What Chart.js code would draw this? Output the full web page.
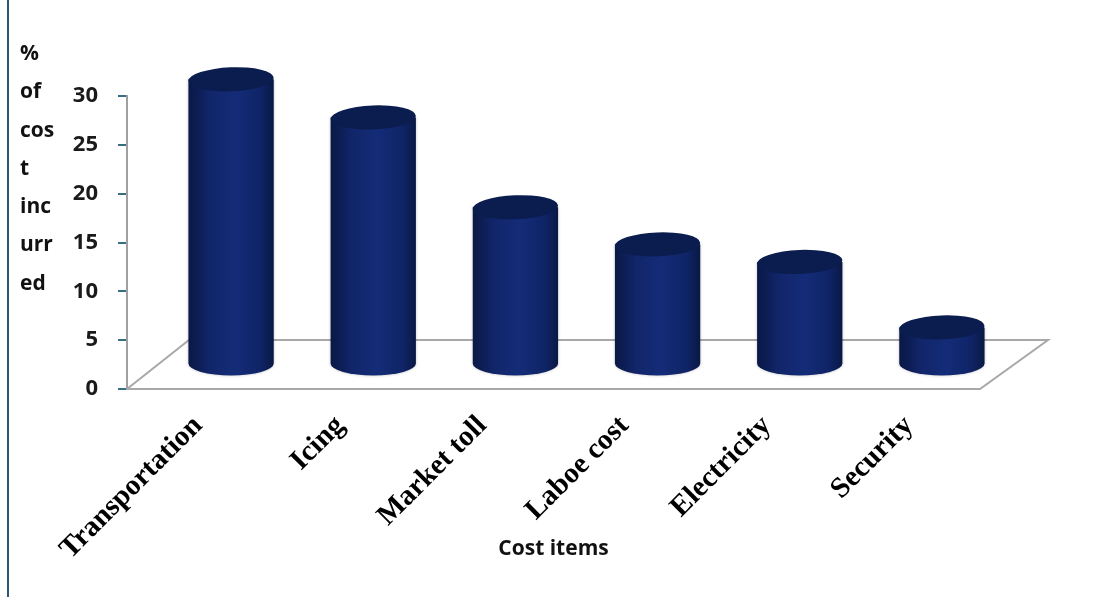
<!DOCTYPE html>
<html>
<head>
<meta charset="utf-8">
<script src="https://cdn.jsdelivr.net/npm/chart.js@4.4.0/dist/chart.umd.min.js"></script>
<style>
  html, body { margin: 0; padding: 0; background: #fff; }
  #wrap { position: relative; width: 1094px; height: 597px; }
  #edge { position: absolute; left: 7px; top: 0; width: 2px; height: 597px; background: #2b5874; }
  canvas { position: absolute; left: 0; top: 0; }
</style>
</head>
<body>
<div id="wrap">
  <div id="edge"></div>
  <canvas id="costChart" width="1094" height="597"></canvas>
</div>
<script>
// datos del grafico
var costItems = ['Transportation', 'Icing', 'Market toll', 'Laboe cost', 'Electricity', 'Security'];
var costShare = [29.2, 25.3, 16.1, 12.3, 10.5, 3.8];
var yTitleLines = ['%', 'of', 'cos', 't', 'inc', 'urr', 'ed'];
var yMin = 0, yMax = 30, yStep = 5;

// profundidad del piso 3D
var depthLeft = 62, depthRight = 68, depthY = 49;

// piso, cilindros y titulo del eje Y
var cylinderPlugin = {
  id: 'cylinders',
  beforeDatasetsDraw: function(chart) {
    var ctx = chart.ctx;
    var a = chart.chartArea;
    ctx.save();
    ctx.strokeStyle = '#a8a8a8';
    ctx.lineWidth = 2;
    ctx.beginPath();
    ctx.moveTo(a.left, a.bottom);
    ctx.lineTo(a.left + depthLeft, a.bottom - depthY);
    ctx.lineTo(a.right + depthRight, a.bottom - depthY);
    ctx.lineTo(a.right, a.bottom);
    ctx.lineTo(a.left, a.bottom);
    ctx.stroke();
    ctx.restore();
  },
  afterDatasetsDraw: function(chart) {
    var ctx = chart.ctx;
    var meta = chart.getDatasetMeta(0);
    meta.data.forEach(function(bar) {
      var cx = bar.x + depthLeft / 2 + 2;
      var top = bar.y - depthY / 2;
      var base = bar.base - depthY / 2;
      var rx = bar.width / 2;
      var ry = 12;

      ctx.save();
      var grad = ctx.createLinearGradient(cx - rx, 0, cx + rx, 0);
      grad.addColorStop(0, '#091845');
      grad.addColorStop(0.25, '#112569');
      grad.addColorStop(0.55, '#142c78');
      grad.addColorStop(0.85, '#0f2466');
      grad.addColorStop(1, '#091843');

      ctx.shadowColor = 'rgba(0,0,0,0.25)';
      ctx.shadowBlur = 3;
      ctx.fillStyle = grad;
      ctx.beginPath();
      ctx.moveTo(cx - rx, top);
      ctx.lineTo(cx - rx, base);
      ctx.ellipse(cx, base, rx, ry, 0, Math.PI, 0, true);
      ctx.lineTo(cx + rx, top);
      ctx.closePath();
      ctx.fill();

      ctx.shadowBlur = 0;
      ctx.fillStyle = '#0b1c4e';
      ctx.beginPath();
      ctx.ellipse(cx, top, rx, ry, -0.04, 0, Math.PI * 2);
      ctx.fill();
      ctx.restore();
    });

    // titulo del eje Y en varias lineas
    ctx.save();
    ctx.fillStyle = '#111';
    ctx.font = 'bold 21px "Open Sans"';
    ctx.textAlign = 'left';
    ctx.textBaseline = 'middle';
    yTitleLines.forEach(function(t, i) {
      ctx.fillText(t, 20, 54 + i * 38.3);
    });
    ctx.restore();
  }
};

var ctx = document.getElementById('costChart').getContext('2d');
var chart = new Chart(ctx, {
  type: 'bar',
  data: {
    labels: costItems,
    datasets: [{
      data: costShare,
      backgroundColor: 'rgba(0,0,0,0)',
      borderWidth: 0,
      barPercentage: 0.6,
      categoryPercentage: 1.0
    }]
  },
  options: {
    responsive: false,
    animation: false,
    layout: { padding: { left: 0, right: 114, top: 96, bottom: 0 } },
    plugins: {
      legend: { display: false },
      tooltip: { enabled: false }
    },
    scales: {
      x: {
        afterFit: function(scale) { scale.height = 208; },
        grid: { display: false, drawTicks: false },
        border: { display: false },
        ticks: {
          autoSkip: false,
          minRotation: 45,
          maxRotation: 45,
          padding: 20,
          color: '#000',
          font: { family: 'Liberation Serif', weight: 'bold', size: 29 }
        },
        title: {
          display: true,
          text: 'Cost items',
          color: '#111',
          padding: { top: 0, bottom: 35 },
          font: { family: 'Open Sans', weight: 'bold', size: 21 }
        }
      },
      y: {
        min: yMin,
        max: yMax,
        afterFit: function(scale) { scale.width = 127; },
        grid: { drawOnChartArea: false, drawTicks: true, tickLength: 9, tickColor: '#3a6f82', lineWidth: 2 },
        border: { display: true, color: '#a0a0a0', width: 2 },
        ticks: {
          stepSize: yStep,
          padding: 20,
          color: '#1a1a1a',
          font: { family: 'Open Sans', weight: 'bold', size: 22 }
        }
      }
    }
  },
  plugins: [cylinderPlugin]
});
</script>
</body>
</html>
